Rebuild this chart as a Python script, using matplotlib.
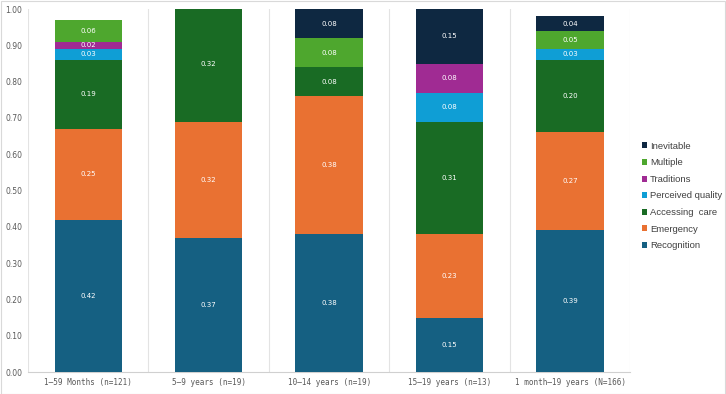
import numpy as np
import matplotlib.pyplot as plt
from matplotlib.patches import Rectangle

# Data
groups = ["1\u201359 Months (n=121)", "5\u20139 years (n=19)", "10\u201314 years (n=19)",
          "15\u201319 years (n=13)", "1 month\u201319 years (N=166)"]
series = ["Recognition", "Emergency", "Accessing  care", "Perceived quality",
          "Traditions", "Multiple", "Inevitable"]
recognition = [0.42, 0.37, 0.38, 0.15, 0.39]
emergency = [0.25, 0.32, 0.38, 0.23, 0.27]
accessing_care = [0.19, 0.32, 0.08, 0.31, 0.20]
perceived_quality = [0.03, 0.00, 0.00, 0.08, 0.03]
traditions = [0.02, 0.00, 0.00, 0.08, 0.00]
multiple = [0.06, 0.00, 0.08, 0.00, 0.05]
inevitable = [0.00, 0.00, 0.08, 0.15, 0.04]

values = [recognition, emergency, accessing_care, perceived_quality,
          traditions, multiple, inevitable]
colors = ["#156082", "#E97132", "#196B24", "#0F9ED5", "#A02B93", "#4EA72E", "#0E2841"]

fig = plt.figure(figsize=(7.26, 3.94), dpi=100)
ax = fig.add_axes([0.0386, 0.0558, 0.8295, 0.9212])

x = np.arange(len(groups))
bottom = np.zeros(len(groups))
handles = []
for name, vals, col in zip(series, values, colors):
    vals = np.array(vals)
    bars = ax.bar(x, vals, bottom=bottom, width=0.56, color=col, label=name, zorder=3)
    handles.append(bars)
    for xi, b, v in zip(x, bottom, vals):
        if v > 0:
            ax.text(xi, b + v / 2, f"{v:.2f}", ha="center", va="center",
                    color="white", fontsize=5, zorder=4)
    bottom += vals

ax.set_xlim(-0.5, len(groups) - 0.5)
ax.set_ylim(0, 1.0)
ax.set_yticks(np.arange(0, 1.01, 0.1))
ax.set_yticklabels([f"{t:.2f}" for t in np.arange(0, 1.01, 0.1)], fontsize=5.5, color="#595959")
ax.set_xticks(x)
ax.set_xticklabels(groups, fontsize=5.5, color="#595959", family="DejaVu Sans Mono")
ax.tick_params(length=0, pad=4)

for b in np.arange(-0.5, len(groups), 1.0):
    ax.axvline(b, color="#e3e3e3", lw=0.8, zorder=1)
for s in ["top", "right", "left"]:
    ax.spines[s].set_visible(False)
ax.spines["bottom"].set_color("#d0d0d0")
ax.spines["bottom"].set_linewidth(0.8)

leg = ax.legend(handles[::-1], series[::-1], loc="center left", bbox_to_anchor=(1.008, 0.485),
                frameon=False, prop={"family": "Liberation Sans", "size": 6.8},
                handlelength=0.6, handleheight=0.6,
                handletextpad=0.3, labelspacing=0.8, borderaxespad=0.3)
for t in leg.get_texts():
    t.set_color("#404040")

fig.patches.append(Rectangle((0.001, 0.001), 0.997, 0.997, transform=fig.transFigure,
                             fill=False, edgecolor="#d9d9d9", lw=0.8))

fig.savefig("out.png", dpi=100)
